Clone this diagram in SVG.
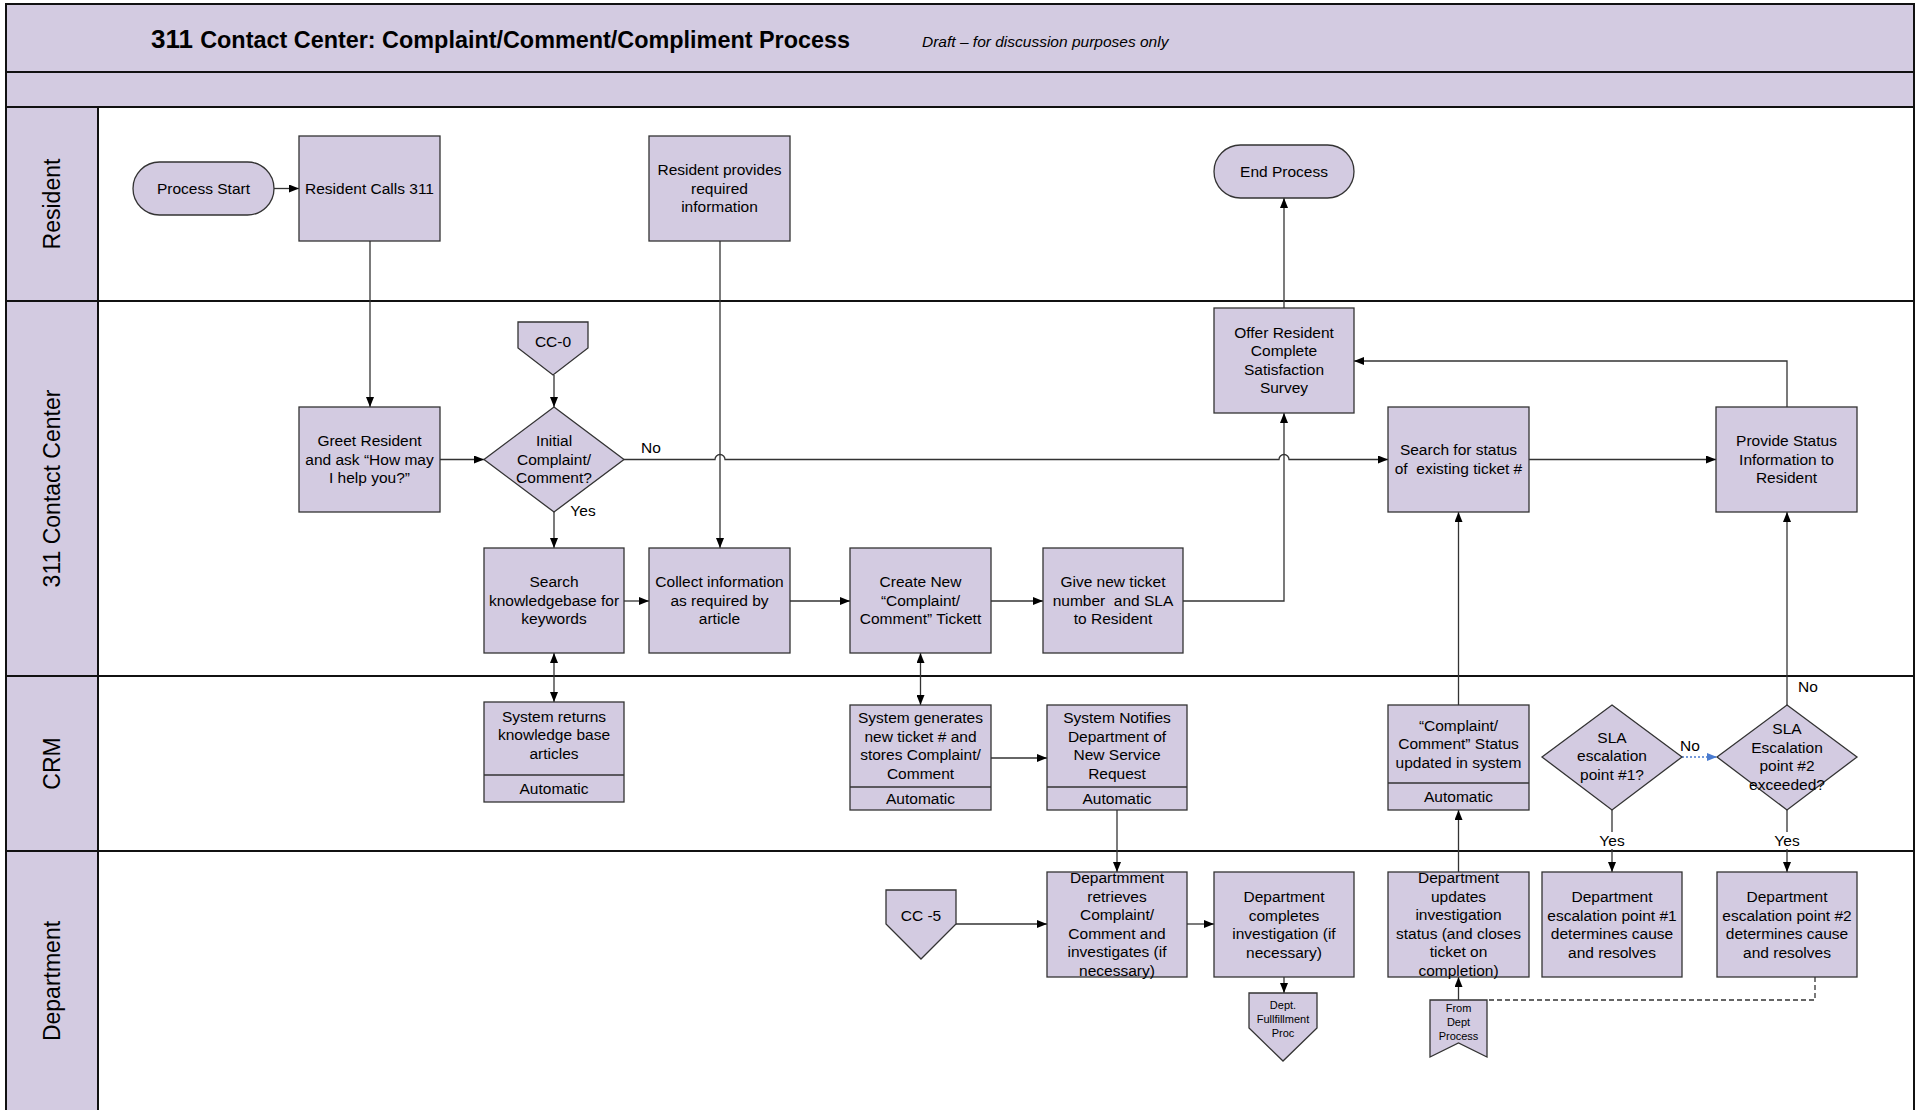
<svg xmlns="http://www.w3.org/2000/svg" width="1921" height="1110" viewBox="0 0 1921 1110">
<style>
text{font-family:"Liberation Sans",Arial,sans-serif;fill:#000}
.t{font-size:15.5px;text-anchor:middle}
.s{font-size:11px;text-anchor:middle}
.lane{font-size:23px;text-anchor:middle}
.n{fill:#d3cbe1;stroke:#333;stroke-width:1.3}
.c{fill:none;stroke:#333;stroke-width:1.3}
.a{marker-end:url(#ah)}
.d{marker-start:url(#ahs);marker-end:url(#ah)}
.fr{fill:none;stroke:#111;stroke-width:2}
.band{fill:#d3cbe1}
</style>
<defs>
<marker id="ah" markerWidth="10" markerHeight="8" refX="10" refY="4" orient="auto" markerUnits="userSpaceOnUse"><path d="M0,0L10,4L0,8z" fill="#000"/></marker>
<marker id="ahs" markerWidth="10" markerHeight="8" refX="10" refY="4" orient="auto-start-reverse" markerUnits="userSpaceOnUse"><path d="M0,0L10,4L0,8z" fill="#000"/></marker>
<marker id="ahb" markerWidth="10" markerHeight="8" refX="10" refY="4" orient="auto" markerUnits="userSpaceOnUse"><path d="M0,0L10,4L0,8z" fill="#4a7bd0"/></marker>
</defs>
<rect x="0" y="0" width="1921" height="1110" fill="#fff"/>
<g id="frame">
<rect class="band" x="6" y="4" width="1908" height="103"/>
<rect class="band" x="6" y="107" width="92" height="1010"/>
<rect class="fr" x="6" y="4" width="1908" height="1120"/>
<line class="fr" x1="6" y1="72" x2="1914" y2="72"/>
<line class="fr" x1="6" y1="107" x2="1914" y2="107"/>
<line class="fr" x1="6" y1="301" x2="1914" y2="301"/>
<line class="fr" x1="6" y1="676" x2="1914" y2="676"/>
<line class="fr" x1="6" y1="851" x2="1914" y2="851"/>
<line class="fr" x1="98" y1="107" x2="98" y2="1110"/>
<text x="151" y="48" font-weight="bold"><tspan font-size="26px">311 </tspan><tspan font-size="23.4px">Contact Center: Complaint/Comment/Compliment Process</tspan></text>
<text x="922" y="47" font-size="15.5px" font-style="italic">Draft – for discussion purposes only</text>
<text class="lane" transform="translate(60,204) rotate(-90)">Resident</text>
<text class="lane" transform="translate(60,488.5) rotate(-90)">311 Contact Center</text>
<text class="lane" transform="translate(60,763.5) rotate(-90)">CRM</text>
<text class="lane" transform="translate(60,981) rotate(-90)">Department</text>
</g>
<g id="connectors">
<path class="c a" d="M274,188.5H299"/>
<path class="c a" d="M370,241V407"/>
<path class="c a" d="M554,375V407"/>
<path class="c a" d="M440,459.5H484"/>
<path class="c a" d="M624,459.5H715A5,5 0 0 1 725,459.5H1279A5,5 0 0 1 1289,459.5H1388"/>
<path class="c a" d="M554,512V548"/>
<path class="c a" d="M720,241V548"/>
<path class="c a" d="M624,601H649"/>
<path class="c a" d="M790,601H850"/>
<path class="c a" d="M991,601H1043"/>
<path class="c a" d="M1183,601H1284V413"/>
<path class="c a" d="M1284,308V198"/>
<path class="c a" d="M1529,459.5H1716"/>
<path class="c a" d="M1787,407V361H1354"/>
<path class="c d" d="M554,653V702"/>
<path class="c d" d="M920.5,653V705"/>
<path class="c a" d="M991,758H1047"/>
<path class="c a" d="M1117,810V872"/>
<path class="c a" d="M956,924H1047"/>
<path class="c a" d="M1187,924H1214"/>
<path class="c a" d="M1284,977V993"/>
<path class="c a" d="M1458.5,1000V977"/>
<path class="c a" d="M1458.5,872V810"/>
<path class="c a" d="M1458.5,705V512"/>
<path class="c a" d="M1612,810V872"/>
<path class="c a" d="M1787,810V872"/>
<path class="c a" d="M1787,705V512"/>
<path d="M1682,757H1717" fill="none" stroke="#4a7bd0" stroke-width="1.3" stroke-dasharray="2,2" marker-end="url(#ahb)"/>
<path class="c" d="M1815,977V1000H1487" stroke-dasharray="5,3"/>
<text class="t" x="651" y="452.5">No</text>
<text class="t" x="583" y="516">Yes</text>
<text class="t" x="1690" y="750.5">No</text>
<text class="t" x="1808" y="691.5">No</text>
<rect x="1597" y="832" width="30" height="17" fill="#fff"/>
<text class="t" x="1612" y="846">Yes</text>
<rect x="1772" y="832" width="30" height="17" fill="#fff"/>
<text class="t" x="1787" y="846">Yes</text>
</g>
<g id="process-start"><rect class="n" x="133" y="162" width="141" height="53" rx="26.5"/><text class="t" x="203.5" y="193.5">Process Start</text></g>
<g id="resident-calls"><rect class="n" x="299" y="136" width="141" height="105"/><text class="t" x="369.5" y="193.5">Resident Calls 311</text></g>
<g id="resident-provides"><rect class="n" x="649" y="136" width="141" height="105"/><text class="t" x="719.5" y="175"><tspan x="719.5">Resident provides</tspan><tspan x="719.5" dy="18.5">required</tspan><tspan x="719.5" dy="18.5">information</tspan></text></g>
<g id="end-process"><rect class="n" x="1214" y="145" width="140" height="53" rx="26.5"/><text class="t" x="1284" y="176.5">End Process</text></g>
<g id="cc-0"><path class="n" d="M518,322H588V348L553,375L518,348Z"/><text class="t" x="553" y="347">CC-0</text></g>
<g id="greet"><rect class="n" x="299" y="407" width="141" height="105"/><text class="t" x="369.5" y="446"><tspan x="369.5">Greet Resident</tspan><tspan x="369.5" dy="18.5">and ask “How may</tspan><tspan x="369.5" dy="18.5">I help you?”</tspan></text></g>
<g id="initial-decision"><path class="n" d="M554,407L624,459.5L554,512L484,459.5Z"/><text class="t" x="554" y="446"><tspan x="554">Initial</tspan><tspan x="554" dy="18.5">Complaint/</tspan><tspan x="554" dy="18.5">Comment?</tspan></text></g>
<g id="offer-survey"><rect class="n" x="1214" y="308" width="140" height="105"/><text class="t" x="1284" y="337.5"><tspan x="1284">Offer Resident</tspan><tspan x="1284" dy="18.5">Complete</tspan><tspan x="1284" dy="18.5">Satisfaction</tspan><tspan x="1284" dy="18.5">Survey</tspan></text></g>
<g id="search-status"><rect class="n" x="1388" y="407" width="141" height="105"/><text class="t" x="1458.5" y="455"><tspan x="1458.5">Search for status</tspan><tspan x="1458.5" dy="18.5">of&#160; existing ticket #</tspan></text></g>
<g id="provide-status"><rect class="n" x="1716" y="407" width="141" height="105"/><text class="t" x="1786.5" y="446"><tspan x="1786.5">Provide Status</tspan><tspan x="1786.5" dy="18.5">Information to</tspan><tspan x="1786.5" dy="18.5">Resident</tspan></text></g>
<g id="search-kb"><rect class="n" x="484" y="548" width="140" height="105"/><text class="t" x="554" y="587"><tspan x="554">Search</tspan><tspan x="554" dy="18.5">knowledgebase for</tspan><tspan x="554" dy="18.5">keywords</tspan></text></g>
<g id="collect-info"><rect class="n" x="649" y="548" width="141" height="105"/><text class="t" x="719.5" y="587"><tspan x="719.5">Collect information</tspan><tspan x="719.5" dy="18.5">as required by</tspan><tspan x="719.5" dy="18.5">article</tspan></text></g>
<g id="create-ticket"><rect class="n" x="850" y="548" width="141" height="105"/><text class="t" x="920.5" y="587"><tspan x="920.5">Create New</tspan><tspan x="920.5" dy="18.5">“Complaint/</tspan><tspan x="920.5" dy="18.5">Comment” Tickett</tspan></text></g>
<g id="give-ticket"><rect class="n" x="1043" y="548" width="140" height="105"/><text class="t" x="1113" y="587"><tspan x="1113">Give new ticket</tspan><tspan x="1113" dy="18.5">number&#160; and SLA</tspan><tspan x="1113" dy="18.5">to Resident</tspan></text></g>
<g id="system-returns"><rect class="n" x="484" y="702" width="140" height="100"/><line class="n" x1="484" y1="775" x2="624" y2="775"/><text class="t" x="554" y="721.5"><tspan x="554">System returns</tspan><tspan x="554" dy="18.5">knowledge base</tspan><tspan x="554" dy="18.5">articles</tspan></text><text class="t" x="554" y="793.5">Automatic</text></g>
<g id="system-generates"><rect class="n" x="850" y="705" width="141" height="105"/><line class="n" x1="850" y1="787" x2="991" y2="787"/><text class="t" x="920.5" y="723.25"><tspan x="920.5">System generates</tspan><tspan x="920.5" dy="18.5">new ticket # and</tspan><tspan x="920.5" dy="18.5">stores Complaint/</tspan><tspan x="920.5" dy="18.5">Comment</tspan></text><text class="t" x="920.5" y="803.5">Automatic</text></g>
<g id="system-notifies"><rect class="n" x="1047" y="705" width="140" height="105"/><line class="n" x1="1047" y1="787" x2="1187" y2="787"/><text class="t" x="1117" y="723.25"><tspan x="1117">System Notifies</tspan><tspan x="1117" dy="18.5">Department of</tspan><tspan x="1117" dy="18.5">New Service</tspan><tspan x="1117" dy="18.5">Request</tspan></text><text class="t" x="1117" y="803.5">Automatic</text></g>
<g id="status-updated"><rect class="n" x="1388" y="705" width="141" height="105"/><line class="n" x1="1388" y1="783" x2="1529" y2="783"/><text class="t" x="1458.5" y="730.5"><tspan x="1458.5">“Complaint/</tspan><tspan x="1458.5" dy="18.5">Comment” Status</tspan><tspan x="1458.5" dy="18.5">updated in system</tspan></text><text class="t" x="1458.5" y="801.5">Automatic</text></g>
<g id="sla-1"><path class="n" d="M1612,705L1682,757L1612,810L1542,757Z"/><text class="t" x="1612" y="742.5"><tspan x="1612">SLA</tspan><tspan x="1612" dy="18.5">escalation</tspan><tspan x="1612" dy="18.5">point #1?</tspan></text></g>
<g id="sla-2"><path class="n" d="M1787,705L1857,757L1787,810L1717,757Z"/><text class="t" x="1787" y="734"><tspan x="1787">SLA</tspan><tspan x="1787" dy="18.5">Escalation</tspan><tspan x="1787" dy="18.5">point #2</tspan><tspan x="1787" dy="18.5">exceeded?</tspan></text></g>
<g id="cc-5"><path class="n" d="M886,890H956V924L921,959L886,924Z"/><text class="t" x="921" y="920.5">CC -5</text></g>
<g id="dept-retrieves"><rect class="n" x="1047" y="872" width="140" height="105"/><text class="t" x="1117" y="883"><tspan x="1117">Departmment</tspan><tspan x="1117" dy="18.5">retrieves</tspan><tspan x="1117" dy="18.5">Complaint/</tspan><tspan x="1117" dy="18.5">Comment and</tspan><tspan x="1117" dy="18.5">investigates (if</tspan><tspan x="1117" dy="18.5">necessary)</tspan></text></g>
<g id="dept-completes"><rect class="n" x="1214" y="872" width="140" height="105"/><text class="t" x="1284" y="902"><tspan x="1284">Department</tspan><tspan x="1284" dy="18.5">completes</tspan><tspan x="1284" dy="18.5">investigation (if</tspan><tspan x="1284" dy="18.5">necessary)</tspan></text></g>
<g id="dept-updates"><rect class="n" x="1388" y="872" width="141" height="105"/><text class="t" x="1458.5" y="883"><tspan x="1458.5">Department</tspan><tspan x="1458.5" dy="18.5">updates</tspan><tspan x="1458.5" dy="18.5">investigation</tspan><tspan x="1458.5" dy="18.5">status (and closes</tspan><tspan x="1458.5" dy="18.5">ticket on</tspan><tspan x="1458.5" dy="18.5">completion)</tspan></text></g>
<g id="dept-esc-1"><rect class="n" x="1542" y="872" width="140" height="105"/><text class="t" x="1612" y="902"><tspan x="1612">Department</tspan><tspan x="1612" dy="18.5">escalation point #1</tspan><tspan x="1612" dy="18.5">determines cause</tspan><tspan x="1612" dy="18.5">and resolves</tspan></text></g>
<g id="dept-esc-2"><rect class="n" x="1717" y="872" width="140" height="105"/><text class="t" x="1787" y="902"><tspan x="1787">Department</tspan><tspan x="1787" dy="18.5">escalation point #2</tspan><tspan x="1787" dy="18.5">determines cause</tspan><tspan x="1787" dy="18.5">and resolves</tspan></text></g>
<g id="dept-fulfillment"><path class="n" d="M1249,993H1317V1028L1283,1061L1249,1028Z"/><text class="s" x="1283" y="1009"><tspan x="1283">Dept.</tspan><tspan x="1283" dy="14">Fullfillment</tspan><tspan x="1283" dy="14">Proc</tspan></text></g>
<g id="from-dept"><path class="n" d="M1430,1000H1487V1057L1458.5,1043L1430,1057Z"/><text class="s" x="1458.5" y="1012"><tspan x="1458.5">From</tspan><tspan x="1458.5" dy="14">Dept</tspan><tspan x="1458.5" dy="14">Process</tspan></text></g>
</svg>
